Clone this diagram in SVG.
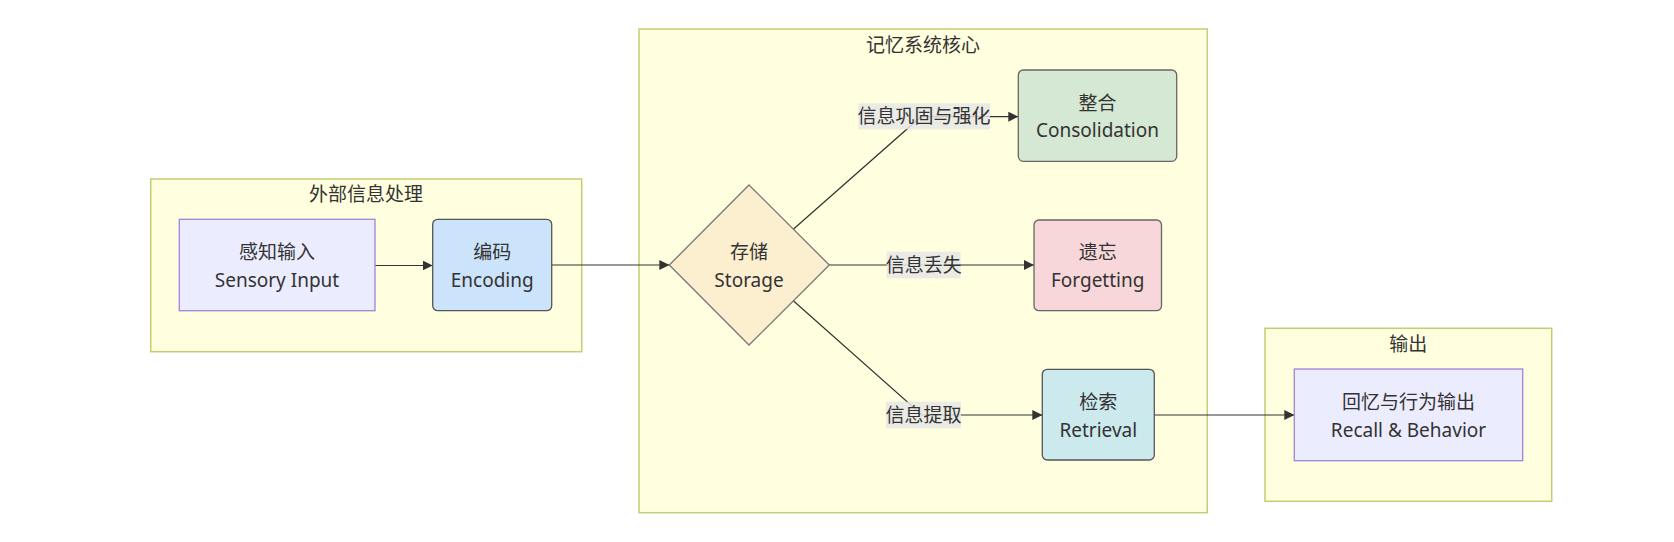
<svg xmlns="http://www.w3.org/2000/svg" width="1674" height="542" viewBox="0 0 1674 542">
<style>
  text { font-family: "Noto Sans", "Noto Sans CJK SC", sans-serif; font-size: 19px; fill: #333; text-anchor: middle; }
  .cluster { fill: #fffede; stroke: #c4cc74; stroke-width: 1.5; }
  .node { stroke-width: 1.3; }
  .edge { fill: none; stroke: #333; stroke-width: 1.2; }
  .lblbg { fill: #e8e8e8; opacity: 0.85; }
</style>
<defs>
  <marker id="arrow" viewBox="0 0 10 10" refX="10" refY="5" markerWidth="10" markerHeight="10" markerUnits="userSpaceOnUse" orient="auto">
    <path d="M0,0 L10,5 L0,10 z" fill="#333"/>
  </marker>
</defs>
<rect width="1674" height="542" fill="#ffffff"/>

<g id="cluster-external">
  <rect class="cluster" x="150.7" y="179" width="431" height="172.7"/>
  <text x="366" y="201">外部信息处理</text>
</g>
<g id="cluster-core">
  <rect class="cluster" x="639" y="29" width="568.3" height="483.7"/>
  <text x="923" y="52">记忆系统核心</text>
</g>
<g id="cluster-output">
  <rect class="cluster" x="1265" y="328.3" width="286.7" height="173"/>
  <text x="1408.3" y="351">输出</text>
</g>

<g id="connectors">
  <path class="edge" d="M375,265.5 L432.7,265.5" marker-end="url(#arrow)"/>
  <path class="edge" d="M551.7,265 L669.3,265" marker-end="url(#arrow)"/>
  <path class="edge" d="M793.3,229.3 L921,116.7 L1018.3,116.7" marker-end="url(#arrow)"/>
  <path class="edge" d="M829.3,265 L1034,265" marker-end="url(#arrow)"/>
  <path class="edge" d="M793.3,300.7 L922,415 L1042.3,415" marker-end="url(#arrow)"/>
  <path class="edge" d="M1154.3,415 L1294.3,415" marker-end="url(#arrow)"/>
  <g id="edge-labels">
    <rect class="lblbg" x="858.3" y="103.3" width="131.7" height="26"/>
    <text x="924" y="123">信息巩固与强化</text>
    <rect class="lblbg" x="886.7" y="251.7" width="74" height="26.6"/>
    <text x="923.7" y="272">信息丢失</text>
    <rect class="lblbg" x="886" y="401.7" width="75" height="26.6"/>
    <text x="923.5" y="422">信息提取</text>
  </g>
</g>

<g id="node-sensory">
  <rect class="node" x="179.3" y="219.3" width="195.7" height="91.4" fill="#ececff" stroke="#9d85de"/>
  <text x="277" y="259">感知输入</text>
  <text x="277" y="286.5">Sensory Input</text>
</g>
<g id="node-encoding">
  <rect class="node" x="432.7" y="219.3" width="119" height="91.4" rx="5" fill="#cce4fb" stroke="#555"/>
  <text x="492.2" y="259">编码</text>
  <text x="492.2" y="286.5">Encoding</text>
</g>
<g id="node-storage">
  <polygon class="node" points="749,185 829.3,265 749,345 669.3,265" fill="#fcefcf" stroke="#777"/>
  <text x="749" y="259">存储</text>
  <text x="749" y="286.5">Storage</text>
</g>
<g id="node-consolidation">
  <rect class="node" x="1018.3" y="70" width="158.4" height="91.3" rx="5" fill="#d5e8d4" stroke="#666"/>
  <text x="1097.5" y="109.7">整合</text>
  <text x="1097.5" y="137.2">Consolidation</text>
</g>
<g id="node-forgetting">
  <rect class="node" x="1034" y="220" width="127.5" height="90.7" rx="5" fill="#f8d7da" stroke="#666"/>
  <text x="1097.7" y="259">遗忘</text>
  <text x="1097.7" y="286.5">Forgetting</text>
</g>
<g id="node-retrieval">
  <rect class="node" x="1042.3" y="369.3" width="112" height="90.7" rx="5" fill="#cce9ee" stroke="#555"/>
  <text x="1098.3" y="409">检索</text>
  <text x="1098.3" y="436.5">Retrieval</text>
</g>
<g id="node-recall">
  <rect class="node" x="1294.3" y="369" width="228.4" height="91.7" fill="#ececff" stroke="#9d85de"/>
  <text x="1408.5" y="409">回忆与行为输出</text>
  <text x="1408.5" y="436.5">Recall &amp; Behavior</text>
</g>
</svg>
